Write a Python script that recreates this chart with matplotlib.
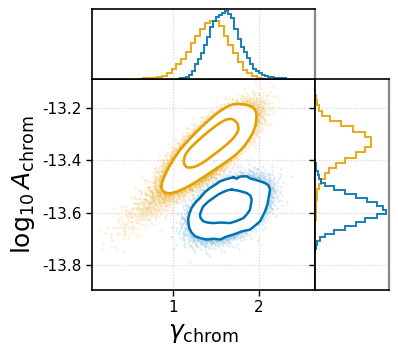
import numpy as np
import matplotlib
matplotlib.use("Agg")
import matplotlib.pyplot as plt
from matplotlib.path import Path
from matplotlib.patches import PathPatch

plt.rcParams['axes.unicode_minus'] = False

ORANGE = '#E69F00'
BLUE = '#0072B2'

# ---------------- data ----------------
# marginal histograms (relative heights)
orange_gamma_start, orange_gamma_width = 0.60, 0.055
orange_gamma_hist = [0.005, 0.01, 0.015, 0.02, 0.035, 0.05, 0.09, 0.15, 0.21, 0.29, 0.38, 0.51,
                     0.61, 0.72, 0.80, 0.83, 0.83, 0.76, 0.62, 0.48, 0.37, 0.24, 0.13, 0.08,
                     0.04, 0.02, 0.005]
blue_gamma_start, blue_gamma_width = 1.05, 0.035
blue_gamma_hist = [0.005, 0.01, 0.02, 0.035, 0.055, 0.12, 0.21, 0.29, 0.37, 0.48, 0.60, 0.74,
                   0.83, 0.89, 0.91, 0.95, 0.97, 0.93, 0.87, 0.72, 0.57, 0.46, 0.38, 0.30,
                   0.22, 0.15, 0.11, 0.08, 0.06, 0.04, 0.03, 0.025, 0.02, 0.015, 0.01, 0.008,
                   0.005]
orange_logA_start, orange_logA_width = -13.89, 0.02
orange_logA_hist = [0.0, 0.0, 0.002, 0.002, 0.002, 0.002, 0.003, 0.003, 0.003, 0.004, 0.004,
                    0.005, 0.006, 0.007, 0.009, 0.012, 0.016, 0.022, 0.032, 0.05, 0.08, 0.13,
                    0.19, 0.29, 0.40, 0.56, 0.67, 0.75, 0.75, 0.67, 0.52, 0.35, 0.20, 0.10,
                    0.06, 0.03, 0.012]
blue_logA_start, blue_logA_width = -13.755, 0.015
blue_logA_hist = [0.003, 0.008, 0.03, 0.07, 0.14, 0.25, 0.40, 0.56, 0.68, 0.84, 0.965, 0.92,
                  0.84, 0.70, 0.55, 0.40, 0.25, 0.13, 0.08, 0.05, 0.035, 0.02, 0.01, 0.004]

# credible-region contours (gamma, log10 A)
orange_outer_g = [1.721, 1.895, 1.965, 1.973, 1.953, 1.895, 1.779, 1.624, 1.450, 1.275, 1.140,
                  1.004, 0.907, 0.857, 0.887, 0.965, 1.062, 1.198, 1.353, 1.508, 1.624]
orange_outer_a = [-13.182, -13.189, -13.208, -13.239, -13.278, -13.316, -13.367, -13.405,
                  -13.443, -13.482, -13.507, -13.526, -13.526, -13.507, -13.469, -13.418,
                  -13.367, -13.316, -13.265, -13.220, -13.195]
orange_inner_g = [1.721, 1.771, 1.740, 1.624, 1.469, 1.314, 1.198, 1.140, 1.120, 1.159, 1.275,
                  1.430, 1.566, 1.655]
orange_inner_a = [-13.246, -13.271, -13.303, -13.341, -13.380, -13.418, -13.430, -13.424,
                  -13.399, -13.367, -13.329, -13.284, -13.252, -13.239]
blue_outer_g = [1.701, 1.740, 1.780, 1.856, 1.900, 1.953, 2.010, 2.070, 2.110, 2.128, 2.118,
                2.108, 2.095, 2.070, 2.045, 2.012, 1.960, 1.895, 1.800, 1.701, 1.620, 1.547,
                1.470, 1.392, 1.320, 1.256, 1.215, 1.190, 1.180, 1.178, 1.195, 1.217, 1.260,
                1.314, 1.370, 1.430, 1.490, 1.547, 1.620]
blue_outer_a = [-13.465, -13.470, -13.462, -13.461, -13.470, -13.474, -13.480, -13.487,
                -13.496, -13.512, -13.530, -13.550, -13.572, -13.595, -13.612, -13.633,
                -13.648, -13.665, -13.672, -13.684, -13.692, -13.703, -13.700, -13.703,
                -13.698, -13.690, -13.676, -13.659, -13.640, -13.621, -13.600, -13.582,
                -13.562, -13.544, -13.522, -13.506, -13.494, -13.480, -13.472]
blue_inner_g = [1.682, 1.760, 1.856, 1.900, 1.915, 1.905, 1.895, 1.860, 1.818, 1.740, 1.663,
                1.560, 1.469, 1.400, 1.352, 1.320, 1.314, 1.330, 1.352, 1.410, 1.469, 1.530,
                1.585, 1.640]
blue_inner_a = [-13.512, -13.516, -13.525, -13.535, -13.550, -13.570, -13.589, -13.606,
                -13.621, -13.632, -13.640, -13.638, -13.640, -13.638, -13.633, -13.620,
                -13.608, -13.592, -13.576, -13.558, -13.544, -13.530, -13.521, -13.514]

# sample-cloud summary (centre, spread, correlation)
orange_mean, orange_sig, orange_rho = (1.43, -13.352), (0.205, 0.062), 0.76
orange_tail_mean, orange_tail_sig, orange_tail_rho = (0.98, -13.50), (0.30, 0.085), 0.88
blue_mean, blue_sig, blue_rho = (1.65, -13.585), (0.178, 0.047), 0.45

x_ticks = [1, 2]
y_ticks = [-13.8, -13.6, -13.4, -13.2]
x_lim = (0.06, 2.65)
y_lim = (-13.896, -13.089)


# ---------------- helpers ----------------
def halton(n, base, skip=37):
    i = np.arange(skip + 1, skip + n + 1)
    f = 1.0
    r = np.zeros(n)
    while np.any(i > 0):
        f /= base
        r += f * (i % base)
        i //= base
    return r


def cloud(n, mean, sig, rho, b1, b2):
    u1 = halton(n, b1)
    u2 = halton(n, b2)
    rad = np.sqrt(-2 * np.log(u1))
    z1 = rad * np.cos(2 * np.pi * u2)
    z2 = rad * np.sin(2 * np.pi * u2)
    x = mean[0] + sig[0] * z1
    y = mean[1] + sig[1] * (rho * z1 + np.sqrt(1 - rho ** 2) * z2)
    return x, y


def outside(x, y, g, a):
    p = Path(np.column_stack([g, a]))
    return ~p.contains_points(np.column_stack([x, y]))


def smooth_patch(g, a, color, lw):
    P = np.column_stack([g, a])
    n = len(P)
    mids = (P + np.roll(P, -1, axis=0)) / 2
    verts = [mids[-1]]
    codes = [Path.MOVETO]
    for i in range(n):
        verts += [P[i], mids[i]]
        codes += [Path.CURVE3, Path.CURVE3]
    return PathPatch(Path(verts, codes), facecolor='none', edgecolor=color, lw=lw, zorder=3)


def edges(start, width, n):
    return start + width * np.arange(n + 1)


# ---------------- figure ----------------
fig = plt.figure(figsize=(3.98, 3.54), dpi=100)
ax = fig.add_axes([92 / 398, 64 / 354, 223 / 398, 211 / 354])
axt = fig.add_axes([92 / 398, 275 / 354, 223 / 398, 70 / 354])
axr = fig.add_axes([315 / 398, 64 / 354, 74 / 398, 211 / 354])

# orange cloud
ox1, oy1 = cloud(30000, orange_mean, orange_sig, orange_rho, 2, 3)
ox2, oy2 = cloud(900, orange_tail_mean, orange_tail_sig, orange_tail_rho, 5, 7)
ox = np.concatenate([ox1, ox2]); oy = np.concatenate([oy1, oy2])
m = outside(ox, oy, orange_outer_g, orange_outer_a)
ax.scatter(ox[m], oy[m], s=3.5, color=ORANGE, alpha=0.16, lw=0, zorder=2)

bx, by = cloud(20000, blue_mean, blue_sig, blue_rho, 11, 13)
m = outside(bx, by, blue_outer_g, blue_outer_a)
ax.scatter(bx[m], by[m], s=3.5, color=BLUE, alpha=0.13, lw=0, zorder=2)

ax.add_patch(smooth_patch(orange_outer_g, orange_outer_a, ORANGE, 1.9))
ax.add_patch(smooth_patch(orange_inner_g, orange_inner_a, ORANGE, 1.9))
for g, a in [(blue_outer_g, blue_outer_a), (blue_inner_g, blue_inner_a)]:
    ax.plot(list(g) + [g[0]], list(a) + [a[0]], color=BLUE, lw=1.8, zorder=3)

ax.set_xlim(*x_lim)
ax.set_ylim(*y_lim)
ax.set_xticks(x_ticks)
ax.set_yticks(y_ticks)
ax.set_yticklabels([f'{v:.1f}' for v in y_ticks])
ax.tick_params(direction='out', length=4, width=1, labelsize=11)
ax.grid(True, color='#cfcfcf', lw=0.8, ls=':')
ax.set_axisbelow(True)
ax.set_xlabel(r'$\gamma_\mathrm{chrom}$', fontsize=18)
ax.set_ylabel(r'$\log_{10}A_\mathrm{chrom}$', fontsize=18)

# top marginal
axt.stairs(orange_gamma_hist, edges(orange_gamma_start, orange_gamma_width, len(orange_gamma_hist)),
           color=ORANGE, lw=1.4, alpha=0.9)
axt.stairs(blue_gamma_hist, edges(blue_gamma_start, blue_gamma_width, len(blue_gamma_hist)),
           color=BLUE, lw=1.4, alpha=0.9)
axt.set_xlim(*x_lim)
axt.set_ylim(0, 1.0)
axt.set_xticks(x_ticks)
axt.tick_params(left=False, bottom=False, labelleft=False, labelbottom=False)
axt.grid(True, axis='x', color='#cfcfcf', lw=0.8, ls=':')
axt.set_axisbelow(True)

# right marginal
axr.stairs(orange_logA_hist, edges(orange_logA_start, orange_logA_width, len(orange_logA_hist)),
           orientation='horizontal', color=ORANGE, lw=1.4, alpha=0.9)
axr.stairs(blue_logA_hist, edges(blue_logA_start, blue_logA_width, len(blue_logA_hist)),
           orientation='horizontal', color=BLUE, lw=1.4, alpha=0.9)
axr.set_ylim(*y_lim)
axr.set_xlim(0, 1.0)
axr.set_yticks(y_ticks)
axr.tick_params(bottom=False, labelbottom=False, labelleft=False, direction='out', length=4, width=1)
axr.grid(True, axis='y', color='#cfcfcf', lw=0.8, ls=':')
axr.set_axisbelow(True)

for a_ in (ax, axt, axr):
    for s in a_.spines.values():
        s.set_linewidth(1.2)
        s.set_color('black')
for a_ in (axt, axr):
    a_.spines['right'].set_color('#888888')
    a_.spines['right'].set_linewidth(1.6)

fig.savefig('out.png', dpi=100)
